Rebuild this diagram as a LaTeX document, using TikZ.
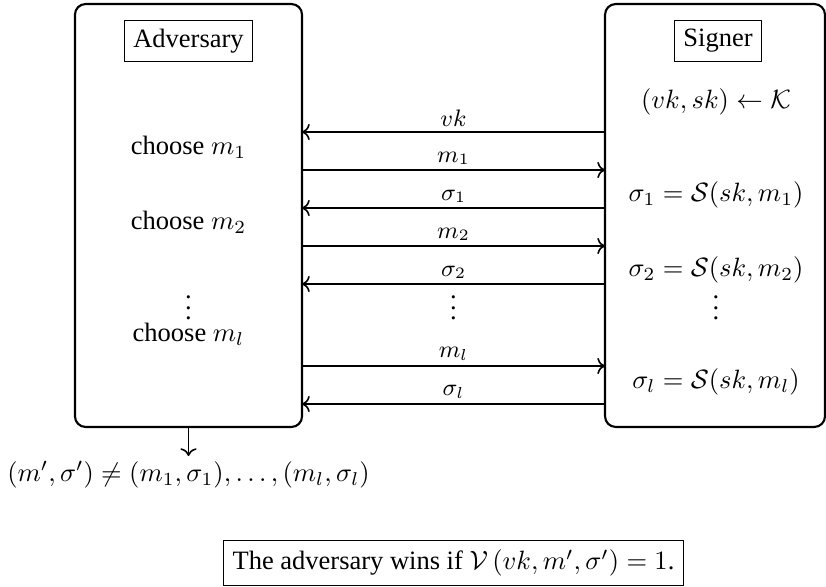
\documentclass[tikz,border=0pt]{standalone}
\usepackage[no-math]{fontspec}
\setmainfont{Liberation Serif}
\usetikzlibrary{arrows.meta, positioning}

\begin{document}
\begin{tikzpicture}[x=0.3774pt, y=-0.3774pt, outer sep=0pt]
    \tikzstyle{party} = [rectangle, draw, thick, rounded corners=4pt, minimum width=85.7pt, minimum height=159.6pt]
    \tikzstyle{title} = [rectangle, draw, inner sep=3.33pt]
    \tikzstyle{msg} = [semithick]
    \tikzstyle{lbl} = [midway, above, inner sep=2pt, font=\small]
    \tikzstyle{dots} = [inner sep=0pt]
    \useasboundingbox (0,0) rectangle (826,587);
    \node[party] (adv) at (188.5,215.5) {};
    \node[party, minimum width=83pt] (sig) at (715,215.5) {};
    \node[title] (advname) at (188.5,41) {Adversary};
    \node[title] (signame) at (718,41) {Signer};
    % adversary side
    \node (ch1) at (188.5,147) {choose $m_1$};
    \node (ch2) at (188.5,222) {choose $m_2$};
    \node[dots] (chdots) at (188.5,300) {$\vdots$};
    \node[inner sep=0pt] (chl) at (188.5,334) {choose $m_l$};
    % signer side
    \node (keygen) at (716,102) {$(vk, sk) \leftarrow \mathcal{K}$};
    \node (sg1) at (716,195) {$\sigma_1 = \mathcal{S}(sk, m_1)$};
    \node (sg2) at (716,270) {$\sigma_2 = \mathcal{S}(sk, m_2)$};
    \node[dots] (sgdots) at (716,300) {$\vdots$};
    \node (sgl) at (716,382) {$\sigma_l = \mathcal{S}(sk, m_l)$};
    % messages
    \draw[msg, <-] (adv.east |- 0,132) -- (sig.west |- 0,132) node[lbl] (lvk) {$vk$};
    \draw[msg, ->] (adv.east |- 0,170) -- (sig.west |- 0,170) node[lbl] (lm1) {$m_1$};
    \draw[msg, <-] (adv.east |- 0,208) -- (sig.west |- 0,208) node[lbl] (ls1) {$\sigma_1$};
    \draw[msg, ->] (adv.east |- 0,246) -- (sig.west |- 0,246) node[lbl] (lm2) {$m_2$};
    \draw[msg, <-] (adv.east |- 0,284) -- (sig.west |- 0,284) node[lbl] (ls2) {$\sigma_2$};
    \node[dots] (msgdots) at (453.5,300) {$\vdots$};
    \draw[msg, ->] (adv.east |- 0,366) -- (sig.west |- 0,366) node[lbl] (lml) {$m_l$};
    \draw[msg, <-] (adv.east |- 0,404) -- (sig.west |- 0,404) node[lbl] (lsl) {$\sigma_l$};
    % output of the adversary
    \node[inner sep=2pt, anchor=north] (forge) at (188.5,456) {$(m', \sigma') \neq (m_1, \sigma_1), \ldots, (m_l, \sigma_l)$};
    \draw[msg, ->] (adv.south) -- (forge.north);
    \node[title] (win) at (453.5,563) {The adversary wins if $\mathcal{V}\left(vk, m', \sigma'\right) = 1$.};
\end{tikzpicture}
\end{document}
